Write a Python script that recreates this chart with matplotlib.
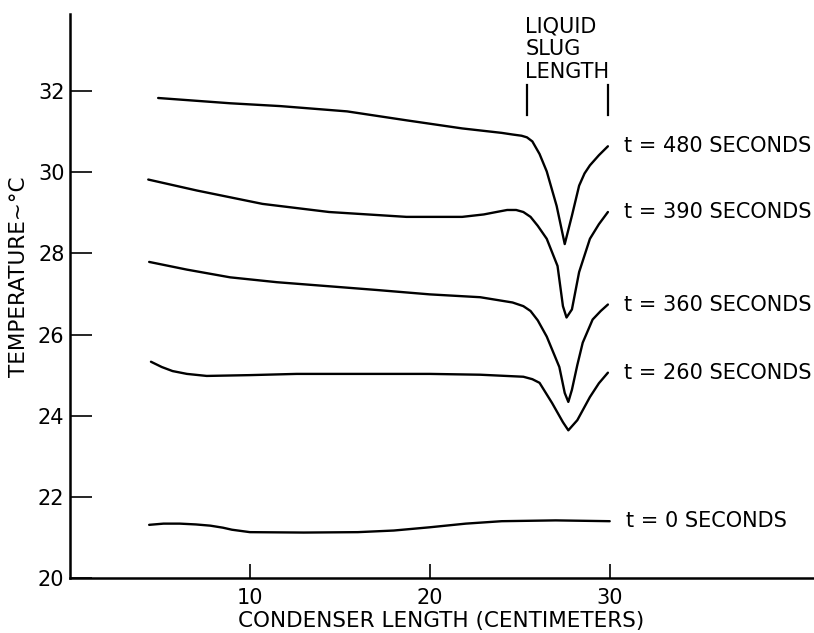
import matplotlib
matplotlib.use('Agg')
import matplotlib.pyplot as plt

# condenser position (cm) and temperature (deg C)
x_480 = [4.9, 8.9, 11.7, 15.4, 18.7, 21.8, 24.0, 24.6, 25.1, 25.4, 25.7, 26.1, 26.5, 27.05, 27.5,
         27.9, 28.3, 28.6, 28.9, 29.4, 29.9]
t_480 = [31.83, 31.70, 31.63, 31.50, 31.28, 31.08, 30.97, 30.93, 30.90, 30.86, 30.76, 30.45, 30.02,
         29.17, 28.23, 28.93, 29.67, 29.97, 30.17, 30.42, 30.64]

x_390 = [4.35, 7.05, 10.7, 14.4, 18.7, 21.8, 23.0, 23.7, 24.3, 24.8, 25.2, 25.6, 26.0, 26.5,
         27.1, 27.4, 27.6, 27.9, 28.3, 28.9, 29.4, 29.9]
t_390 = [29.82, 29.55, 29.22, 29.02, 28.90, 28.90, 28.96, 29.02, 29.07, 29.07, 29.02, 28.90, 28.68,
         28.36, 27.69, 26.70, 26.42, 26.62, 27.54, 28.36, 28.72, 29.02]

x_360 = [4.4, 6.5, 8.9, 11.5, 14.4, 17.0, 20.0, 22.8, 24.6, 25.2, 25.6, 26.0, 26.5, 27.2, 27.5,
         27.7, 27.9, 28.2, 28.5, 29.05, 29.5, 29.9]
t_360 = [27.79, 27.60, 27.41, 27.29, 27.19, 27.10, 26.99, 26.92, 26.79, 26.70, 26.58, 26.35,
         25.95, 25.20, 24.56, 24.34, 24.64, 25.25, 25.80, 26.37, 26.58, 26.74]

x_260 = [4.5, 5.1, 5.7, 6.5, 7.6, 10.0, 12.6, 16.0, 20.0, 22.8, 25.2, 25.7, 26.1, 26.8, 27.4,
         27.7, 28.2, 28.9, 29.4, 29.9]
t_260 = [25.33, 25.20, 25.10, 25.03, 24.98, 25.00, 25.03, 25.03, 25.03, 25.01, 24.96, 24.90,
         24.81, 24.31, 23.84, 23.64, 23.89, 24.46, 24.80, 25.06]

x_0 = [4.4, 5.2, 6.1, 7.0, 7.8, 8.5, 9.0, 10.0, 13.0, 16.0, 18.0, 20.0, 22.0, 24.0, 27.0, 30.0]
t_0 = [21.31, 21.34, 21.34, 21.32, 21.29, 21.24, 21.19, 21.13, 21.12, 21.13, 21.17, 21.25, 21.34,
       21.40, 21.42, 21.40]

curves = [(x_480, t_480, 't = 480 SECONDS'),
          (x_390, t_390, 't = 390 SECONDS'),
          (x_360, t_360, 't = 360 SECONDS'),
          (x_260, t_260, 't = 260 SECONDS'),
          (x_0, t_0, 't = 0 SECONDS')]

slug_start, slug_end = 25.4, 29.9
x_ticks = [10, 20, 30]
y_ticks = [20, 22, 24, 26, 28, 30, 32]

plt.rcParams['font.family'] = ['DejaVu Sans']

fig = plt.figure(figsize=(8.14, 6.33), dpi=100)
ax = fig.add_axes([70 / 814, 1 - 578 / 633, 743 / 814, 564 / 633])

for xs, ts, label in curves:
    ax.plot(xs, ts, color='black', lw=1.7, solid_capstyle='round', solid_joinstyle='round')
    ax.text(xs[-1] + 0.9, ts[-1], label, fontsize=15, ha='left', va='center')

# liquid slug length marker
ax.plot([slug_start, slug_start], [31.41, 32.15], color='black', lw=1.6)
ax.plot([slug_end, slug_end], [31.41, 32.15], color='black', lw=1.6)
ax.text(slug_start - 0.1, 33.85, 'LIQUID\nSLUG\nLENGTH', fontsize=15, ha='left', va='top',
        linespacing=1.2)

ax.set_xlim(0, 41.3)
ax.set_ylim(20, 33.9)
ax.set_xticks(x_ticks)
ax.set_yticks(y_ticks)
ax.tick_params(axis='x', direction='in', length=10, width=1.2, labelsize=15, pad=7)
ax.tick_params(axis='y', direction='in', length=16, width=1.2, labelsize=15, pad=4)
for side in ['top', 'right']:
    ax.spines[side].set_visible(False)
for side in ['left', 'bottom']:
    ax.spines[side].set_linewidth(1.8)

ax.set_xlabel('CONDENSER LENGTH (CENTIMETERS)', fontsize=15.5, labelpad=2)
fig.text(19 / 814, 1 - 277 / 633, 'TEMPERATURE~°C', rotation=90, fontsize=15.5,
         ha='center', va='center')

fig.savefig('out.png', dpi=100)
